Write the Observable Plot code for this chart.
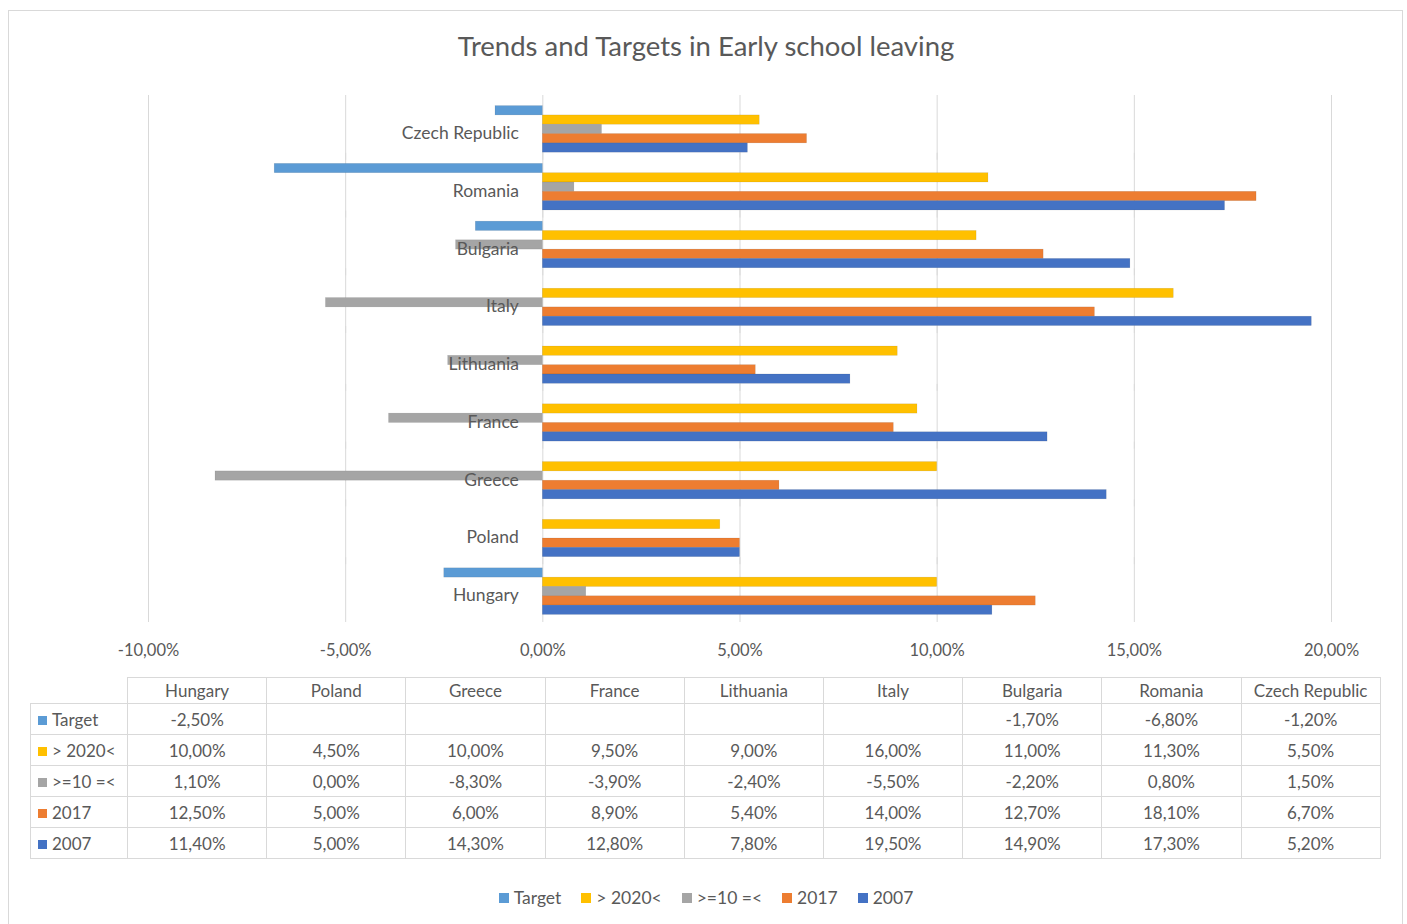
<!DOCTYPE html>
<html>
<head>
<meta charset="utf-8">
<script src="https://cdn.jsdelivr.net/npm/d3@7"></script>
<script src="https://cdn.jsdelivr.net/npm/@observablehq/plot@0.6"></script>
<style>
  body { margin: 0; background: #fff; font-family: Lato, "Open Sans", sans-serif; color: #595959; }
  #frame { position: absolute; left: 8px; top: 10px; width: 1395px; height: 940px; border: 1px solid #d9d9d9; box-sizing: border-box; }
  #title { position: absolute; left: 0; width: 1412px; top: 29px; text-align: center; font-size: 27.5px; color: #595959; }
  #chart { position: absolute; left: 0; top: 0; }
  #tbl { position: absolute; left: 30px; top: 677px; border-collapse: collapse; font-size: 17px; color: #595959; }
  #tbl td { border: 1px solid #d9d9d9; text-align: center; height: 30px; padding: 0; width: 138.2px; }
  #tbl tr.head td { height: 25px; }
  #tbl td.lab { width: 89px; text-align: left; padding-left: 7px; white-space: nowrap; }
  #tbl td.blank { border: none; border-right: 1px solid #d9d9d9; border-bottom: 1px solid #d9d9d9; }
  .sw { display: inline-block; width: 9px; height: 9px; margin-right: 5px; vertical-align: 1px; }
  #legend { position: absolute; left: 0; width: 1412px; top: 887px; text-align: center; font-size: 17.5px; color: #595959; }
  #legend span.item { margin: 0 10px; }
  #legend .sw { width: 10px; height: 10px; }
</style>
</head>
<body>
<div id="frame"></div>
<div id="title">Trends and Targets in Early school leaving</div>
<div id="chart"></div>
<table id="tbl"></table>
<div id="legend"></div>
<script>
// Data (percent values)
const countries = ["Hungary", "Poland", "Greece", "France", "Lithuania", "Italy", "Bulgaria", "Romania", "Czech Republic"];
const seriesNames = ["Target", "> 2020<", ">=10 =<", "2017", "2007"];
const seriesColors = ["#5B9BD5", "#FFC000", "#A5A5A5", "#ED7D31", "#4472C4"];
const target    = [-2.5, null, null, null, null, null, -1.7, -6.8, -1.2];
const goal2020  = [10.0, 4.5, 10.0, 9.5, 9.0, 16.0, 11.0, 11.3, 5.5];
const gap       = [1.1, 0.0, -8.3, -3.9, -2.4, -5.5, -2.2, 0.8, 1.5];
const v2017     = [12.5, 5.0, 6.0, 8.9, 5.4, 14.0, 12.7, 18.1, 6.7];
const v2007     = [11.4, 5.0, 14.3, 12.8, 7.8, 19.5, 14.9, 17.3, 5.2];
const xTicks    = [-10, -5, 0, 5, 10, 15, 20];

const seriesValues = [target, goal2020, gap, v2017, v2007];
const fmt = d => d.toFixed(2).replace(".", ",") + "%";

const rows = [];
seriesNames.forEach((s, si) => {
  countries.forEach((c, ci) => {
    const v = seriesValues[si][ci];
    if (v !== null) rows.push({country: c, series: s, value: v});
  });
});

const fyDomain = countries.slice().reverse();

const chart = Plot.plot({
  width: 1407,
  height: 662,
  marginLeft: 148,
  marginRight: 76,
  marginTop: 100,
  marginBottom: 42,
  style: {fontFamily: "Lato, 'Open Sans', sans-serif", color: "#595959", background: "transparent"},
  x: {domain: [-10, 20], ticks: xTicks, label: null},
  y: {domain: seriesNames, paddingInner: 0, paddingOuter: 0.6, axis: null, round: false},
  fy: {domain: fyDomain, padding: 0, axis: null, round: false},
  color: {domain: seriesNames, range: seriesColors},
  marks: [
    Plot.gridX(xTicks, {stroke: "#d9d9d9", strokeOpacity: 1, strokeWidth: 1, insetTop: -5, insetBottom: -2}),
    Plot.barX(rows, {x: "value", y: "series", fy: "country", fill: "series", stroke: "#000", strokeOpacity: 0.12, strokeWidth: 0.6}),
    Plot.text(countries, {fy: d => d, text: d => d, x: 0, textAnchor: "end", dx: -24, dy: 4, fontSize: 17.5, fill: "#595959"}),
    Plot.axisX(xTicks, {tickSize: 0, tickPadding: 24, tickFormat: fmt, fontSize: 16.5, fill: "#595959", facetAnchor: "bottom", label: null})
  ]
});
document.getElementById("chart").appendChild(chart);

// Data table
const esc = s => s.replace(/</g, "&lt;").replace(/>/g, "&gt;");
const tbl = document.getElementById("tbl");
let html = '<tr class="head"><td class="blank lab"></td>' + countries.map(c => `<td>${c}</td>`).join("") + "</tr>";
seriesNames.forEach((s, si) => {
  html += `<tr><td class="lab"><span class="sw" style="background:${seriesColors[si]}"></span>${esc(s)}</td>` +
    seriesValues[si].map(v => `<td>${v === null ? "" : fmt(v)}</td>`).join("") + "</tr>";
});
tbl.innerHTML = html;

// Legend
document.getElementById("legend").innerHTML = seriesNames.map((s, si) =>
  `<span class="item"><span class="sw" style="background:${seriesColors[si]}"></span>${esc(s)}</span>`).join("");
</script>
</body>
</html>
